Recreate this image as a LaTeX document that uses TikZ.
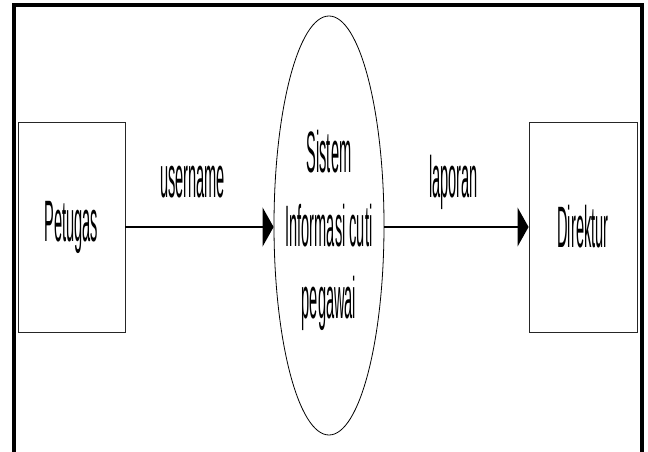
\documentclass[tikz,border=0pt]{standalone}
\usepackage{fontspec}
\setmainfont{Liberation Sans}
\usetikzlibrary{shapes.geometric,arrows.meta}
\newcommand{\tallt}[1]{\scalebox{1}[4]{#1}}
\tikzset{
  frameline/.style={line width=4pt, line cap=rect},
  entity/.style={draw=black!85, line width=0.9pt, minimum width=107pt, minimum height=210pt, inner sep=0pt, font=\fontsize{14.6}{17}\selectfont},
  process/.style={draw=black, line width=0.8pt, ellipse, minimum width=110pt, minimum height=419pt, inner sep=0pt},
  lbl/.style={font=\fontsize{14.6}{17}\selectfont, anchor=base, inner sep=0pt},
  flow/.style={line width=1.3pt, -{Triangle[length=11pt,width=39pt]}}
}
\begin{document}
\begin{tikzpicture}[x=1pt,y=-1pt]
\useasboundingbox (0,0) rectangle (648,452);
% frame (open at the bottom)
\draw[frameline] (14,454) -- (14,5) -- (642,5) -- (642,454);
% nodes
\node[entity] (petugas) at (71.5,227) {\tallt{Petugas}};
\node[entity, minimum width=108pt] (direktur) at (583,227) {\tallt{Direktur}};
\node[process] (sistem) at (329,225.5) {};
\node[lbl] (t1) at (329,172) {\tallt{Sistem}};
\node[lbl] (t2) at (329,246) {\tallt{Informasi cuti}};
\node[lbl] (t3) at (329,318) {\tallt{pegawai}};
% flows
\draw[flow] (petugas.east |- 0,227) -- (sistem.west |- 0,227);
\draw[flow] (sistem.east |- 0,227) -- (direktur.west |- 0,227);
\node[lbl] (username) at (192.5,197) {\tallt{username}};
\node[lbl] (laporan) at (453.5,197) {\tallt{laporan}};
\end{tikzpicture}
\end{document}
